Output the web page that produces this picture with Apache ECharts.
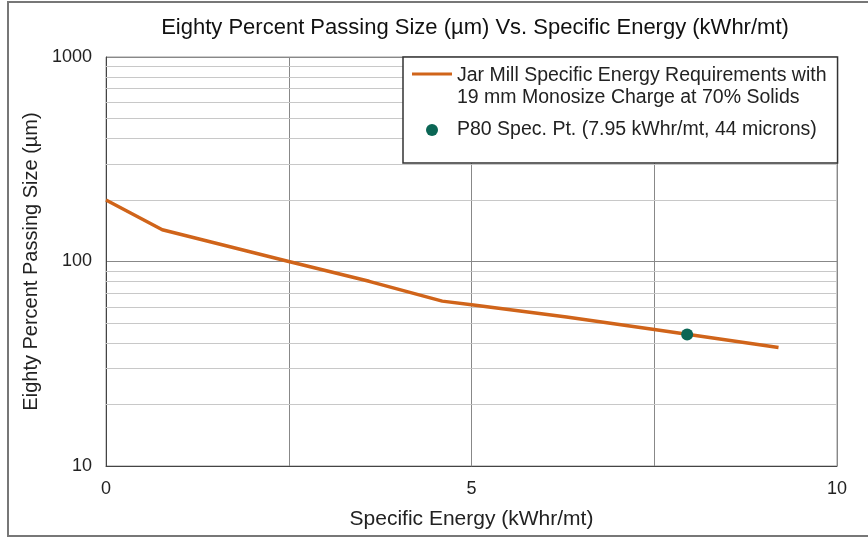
<!DOCTYPE html>
<html>
<head>
<meta charset="utf-8">
<script src="https://cdn.jsdelivr.net/npm/echarts@6/dist/echarts.min.js"></script>
<style>html,body{margin:0;padding:0;background:#fff}#c{width:868px;height:538px}</style>
</head>
<body>
<div id="c"></div>
<script>
var lineName = 'Jar Mill Specific Energy Requirements with\n19 mm Monosize Charge at 70% Solids';
var pointName = 'P80 Spec. Pt. (7.95 kWhr/mt, 44 microns)';
var energyX = [0, 0.77, 2.5, 3.6, 4.6, 5.0, 6.3, 7.5, 9.2];
var p80Y = [200, 143, 100, 80, 64, 61.5, 53.5, 46.5, 38];
var specX = [7.95];
var specY = [44];
var minorGrid = [20, 30, 40, 50, 60, 70, 80, 90, 200, 300, 400, 500, 600, 700, 800, 900];
var xTickLabels = {0: '0', 5: '5', 10: '10'};

var font = 'Liberation Sans, Arial, sans-serif';
var chart = echarts.init(document.getElementById('c'));
chart.setOption({
  animation: false,
  backgroundColor: '#fff',
  title: {
    text: 'Eighty Percent Passing Size (\u00b5m) Vs. Specific Energy (kWhr/mt)',
    left: 470, top: 12, textAlign: 'center',
    textStyle: {fontFamily: font, fontSize: 22, fontWeight: 'normal', color: '#111'}
  },
  graphic: [{
    type: 'rect', shape: {x: 8, y: 2, width: 880, height: 534},
    style: {fill: 'none', stroke: '#777', lineWidth: 2}, silent: true
  }],
  grid: {left: 106, right: 31, top: 57, bottom: 72, show: true, borderColor: '#999', borderWidth: 1},
  legend: {
    orient: 'vertical', left: 403, top: 57,
    backgroundColor: '#fff', borderColor: '#333', borderWidth: 1.5,
    padding: [8, 11, 17, 9], itemGap: 5, itemWidth: 40, itemHeight: 32,
    textStyle: {fontFamily: font, fontSize: 19.5, color: '#222', lineHeight: 22},
    data: [
      {name: lineName, icon: 'path://M0,0M40,32M0,1.5L40,1.5L40,4.5L0,4.5Z'},
      {name: pointName, icon: 'path://M0,0M40,32M14,16A6,6,0,1,1,26,16A6,6,0,1,1,14,16Z'}
    ]
  },
  xAxis: {
    type: 'value', min: 0, max: 10, interval: 2.5,
    name: 'Specific Energy (kWhr/mt)', nameLocation: 'middle', nameGap: 43,
    nameTextStyle: {fontFamily: font, fontSize: 21, color: '#222'},
    axisLine: {lineStyle: {color: '#444'}},
    axisTick: {show: false},
    axisLabel: {fontFamily: font, fontSize: 18, color: '#222', margin: 14,
      formatter: function (v) { return xTickLabels[v] !== undefined ? xTickLabels[v] : ''; }},
    splitLine: {show: true, lineStyle: {color: '#888', width: 1}}
  },
  yAxis: {
    type: 'log', logBase: 10, min: 10, max: 1000,
    name: 'Eighty Percent Passing Size (\u00b5m)', nameLocation: 'middle', nameGap: 65,
    nameTextStyle: {fontFamily: font, fontSize: 20, color: '#222'},
    axisLine: {show: true, lineStyle: {color: '#444'}},
    axisTick: {show: false},
    axisLabel: {fontFamily: font, fontSize: 18, color: '#222', margin: 14,
      formatter: function (v) { return String(Math.round(v)); }},
    splitLine: {show: true, lineStyle: {color: '#888', width: 1}}
  },
  series: [{
    name: lineName, type: 'line', symbol: 'none', z: 3,
    lineStyle: {color: '#d0641a', width: 3.5},
    itemStyle: {color: '#d0641a'},
    data: energyX.map(function (x, i) { return [x, p80Y[i]]; }),
    markLine: {
      silent: true, symbol: 'none', label: {show: false}, z: 1,
      lineStyle: {color: '#c8c8c8', width: 1, type: 'solid'},
      data: minorGrid.map(function (v) { return {yAxis: v}; })
    }
  }, {
    name: pointName, type: 'scatter', symbol: 'circle', symbolSize: 12, z: 4,
    itemStyle: {color: '#0b6655', opacity: 1},
    data: specX.map(function (x, i) { return [x, specY[i]]; })
  }]
});
</script>
</body>
</html>
